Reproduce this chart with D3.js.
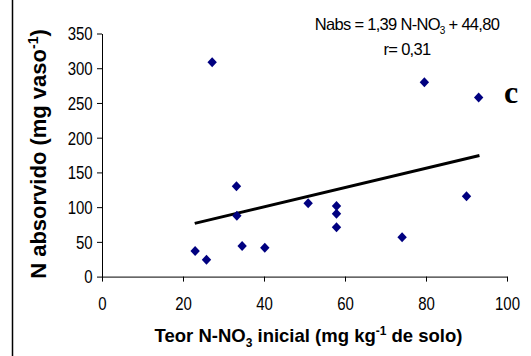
<!DOCTYPE html>
<html><head><meta charset="utf-8">
<script src="https://cdn.jsdelivr.net/npm/d3@7"></script>
<style>
html,body{margin:0;padding:0;background:#fff;}
svg{display:block;}
text{fill:#000;}
</style></head>
<body>
<svg id="chart" width="531" height="356" font-family="Liberation Sans, Arial, sans-serif"></svg>
<script>
// ---- data ----
const teorNNO3 = [23.0, 25.8, 27.2, 33.2, 33.3, 34.6, 40.2, 50.9, 57.9, 57.9, 57.9, 74.1, 79.6, 90.0, 93.0];
const nAbsorvido = [36.8, 24.3, 308.5, 130, 87.7, 44, 41.6, 105.5, 101.6, 90.6, 71, 56.6, 279.7, 115.6, 258];
const trendX = [22.9, 93.2];
const trendY = [76.6, 174.4];
const xTicks = [0, 20, 40, 60, 80, 100];
const yTicks = [0, 50, 100, 150, 200, 250, 300, 350];

const svg = d3.select("#chart");
const x = d3.scaleLinear().domain([0, 100]).range([102, 507]);
const y = d3.scaleLinear().domain([0, 350]).range([276.6, 33.5]);

// left frame line
svg.append("line").attr("x1", 12.5).attr("x2", 12.5).attr("y1", 0).attr("y2", 356)
  .attr("stroke", "#000").attr("stroke-width", 1.5);

// axes
const gx = svg.append("g").attr("transform", `translate(0,${y(0)})`)
  .call(d3.axisBottom(x).tickValues(xTicks).tickSize(5).tickSizeOuter(0));
const gy = svg.append("g").attr("transform", `translate(${x(0)},0)`)
  .call(d3.axisLeft(y).tickValues(yTicks).tickSize(5).tickSizeOuter(0));
[gx, gy].forEach(g => {
  g.attr("font-family", null).attr("font-size", null);
  g.select(".domain").attr("stroke", "#000").attr("stroke-width", 1);
  g.selectAll(".tick line").attr("stroke", "#000").attr("stroke-width", 1);
  g.selectAll("text").style("font-family", "'Liberation Sans', Arial, sans-serif")
    .style("font-size", "15px").attr("fill", "#000");
});
gx.selectAll("text").attr("y", 27.8).attr("dy", 0).attr("transform", "scale(1,1.2)");
gy.selectAll("text").attr("x", -9.3).attr("dy", "0.35em").attr("transform", "scale(1,1.2)");

// trend line
svg.append("line")
  .attr("x1", x(trendX[0])).attr("y1", y(trendY[0]))
  .attr("x2", x(trendX[1])).attr("y2", y(trendY[1]))
  .attr("stroke", "#000").attr("stroke-width", 3);

// diamond markers
const diamond = (cx, cy) => `M${cx},${cy-5}L${cx+4.7},${cy}L${cx},${cy+5}L${cx-4.7},${cy}Z`;
svg.append("g").selectAll("path").data(teorNNO3.map((v, i) => [v, nAbsorvido[i]]))
  .join("path")
  .attr("d", d => diamond(x(d[0]), y(d[1])))
  .attr("fill", "#000080");

// equation
const eq = svg.append("text").attr("x", 407).attr("y", 29.5).attr("text-anchor", "middle")
  .attr("font-size", 16.5).attr("letter-spacing", -0.7);
eq.append("tspan").text("Nabs = 1,39 N-NO");
eq.append("tspan").attr("font-size", 10).attr("dy", 4).text("3");
eq.append("tspan").attr("dy", -4).text(" + 44,80");
svg.append("text").attr("x", 407).attr("y", 54.5).attr("text-anchor", "middle")
  .attr("font-size", 16.5).attr("letter-spacing", -0.7).text("r= 0,31");

// panel letter
svg.append("text").attr("x", 504).attr("y", 103)
  .style("font-family", "'Liberation Serif', 'Times New Roman', serif")
  .attr("font-weight", "bold").attr("font-size", 32).text("c");

// x title
const xt = svg.append("text").attr("x", 308.5).attr("y", 341.5).attr("text-anchor", "middle")
  .attr("font-weight", "bold").attr("font-size", 18.5);
xt.append("tspan").text("Teor N-NO");
xt.append("tspan").attr("font-size", 12).attr("dy", 5).text("3");
xt.append("tspan").attr("dy", -5).text(" inicial (mg kg");
xt.append("tspan").attr("font-size", 12).attr("dy", -7).text("-1");
xt.append("tspan").attr("dy", 7).text(" de solo)");

// y title
const yt = svg.append("text").attr("transform", "translate(46,154) rotate(-90)")
  .attr("text-anchor", "middle").attr("font-weight", "bold").attr("font-size", 22);
yt.append("tspan").text("N absorvido (mg vaso");
yt.append("tspan").attr("font-size", 14).attr("dy", -8).text("-1");
yt.append("tspan").attr("dy", 8).text(")");
</script>
</body></html>
